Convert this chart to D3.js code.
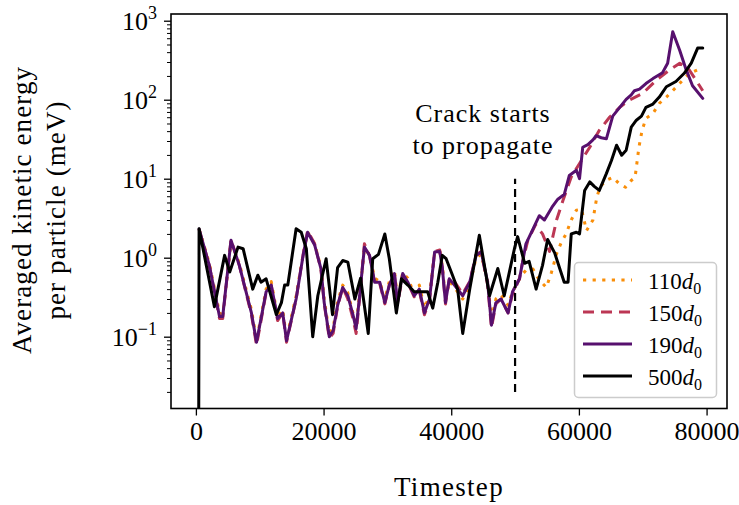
<!DOCTYPE html>
<html>
<head>
<meta charset="utf-8">
<script src="https://cdn.jsdelivr.net/npm/d3@7"></script>
<style>
  html, body { margin: 0; padding: 0; background: #fff; }
  svg { display: block; }
</style>
</head>
<body>
<svg id="chart" width="739" height="505"></svg>
<script>
// [timestep, averaged kinetic energy per particle (meV)]
const series110 = [
  [500, 2.3], [2100, 0.85], [3700, 0.2], [4200, 0.19], [5500, 1.6], [6800, 0.85],
  [8700, 0.22], [9500, 0.09], [11000, 0.4], [11800, 0.5], [12800, 0.18], [13600, 0.22],
  [14200, 0.095], [15700, 0.33], [16800, 1.1], [17500, 2.1], [18600, 1.5], [19600, 0.75],
  [20100, 0.3], [20900, 0.11], [21500, 0.13], [22200, 0.28], [23000, 0.45], [23800, 0.36],
  [24600, 0.2], [25100, 0.14], [25600, 0.32], [26400, 1.3], [27200, 1.1], [28000, 0.55],
  [28800, 0.5], [29600, 0.3], [30300, 0.5], [31100, 0.7], [31600, 0.3], [32400, 0.65],
  [33200, 0.55], [34200, 0.35], [35000, 0.45], [35800, 0.23], [36600, 0.33], [37400, 1.15],
  [38200, 1.2], [38600, 0.8], [39100, 0.3], [39700, 0.5], [40500, 0.42], [41800, 0.3],
  [42900, 0.45], [43900, 1.0], [44700, 1.1], [45700, 0.5], [46300, 0.17], [47000, 0.3],
  [47800, 0.34], [48900, 0.25], [49600, 0.37], [50200, 0.45], [51000, 0.6], [51700, 0.69],
  [52800, 0.72], [53800, 0.52], [54900, 0.42], [55700, 0.65], [56500, 1.12], [57300, 1.6],
  [58000, 2.0], [58800, 3.0], [59600, 4.0], [60400, 4.1], [61200, 2.2], [62200, 3.0],
  [62800, 5.8], [63300, 7.8], [64200, 9.5], [65300, 10.4], [66400, 8.5], [67300, 7.8],
  [68200, 9.5], [68800, 10.4], [69400, 25], [69900, 41], [70500, 58], [71600, 67],
  [72600, 90], [73700, 108], [74700, 130], [76300, 178], [77300, 215], [79200, 250]
];

const series150 = [
  [500, 2.3], [2100, 0.8], [3700, 0.17], [4200, 0.17], [5500, 1.7], [6800, 0.8],
  [8700, 0.19], [9500, 0.078], [11000, 0.36], [11800, 0.45], [12800, 0.16], [13600, 0.2],
  [14200, 0.085], [15700, 0.3], [16800, 1.1], [17500, 2.2], [18600, 1.5], [19600, 0.7],
  [20100, 0.26], [20900, 0.095], [21500, 0.11], [22200, 0.24], [23000, 0.42], [23800, 0.3],
  [24600, 0.17], [25100, 0.11], [25600, 0.28], [26400, 1.5], [27200, 1.05], [28000, 0.48],
  [28800, 0.47], [29600, 0.26], [30300, 0.45], [31100, 0.62], [31600, 0.26], [32400, 0.6],
  [33200, 0.48], [34200, 0.32], [35000, 0.38], [35800, 0.19], [36600, 0.29], [37400, 1.2],
  [38200, 1.25], [38600, 0.75], [39100, 0.26], [39700, 0.55], [40500, 0.5], [41800, 0.35],
  [42900, 0.5], [43900, 1.1], [44700, 1.2], [45700, 0.45], [46300, 0.13], [47000, 0.26],
  [47800, 0.3], [48900, 0.2], [49600, 0.35], [50000, 0.4], [50700, 0.55], [51200, 0.9],
  [52000, 1.66], [53200, 2.6], [54300, 2.0], [55400, 1.2], [56500, 3.0], [57500, 5.3],
  [58800, 10.5], [60100, 15.6], [61700, 25], [63200, 41], [64800, 60], [66400, 80],
  [67900, 99], [70000, 120], [72100, 176], [74200, 238], [75800, 290], [77300, 238],
  [78900, 150], [79400, 130]
];

const series190 = [
  [500, 2.3], [2100, 0.8], [3700, 0.18], [4200, 0.18], [5500, 1.66], [6800, 0.8],
  [8700, 0.2], [9500, 0.085], [11000, 0.37], [11800, 0.45], [12800, 0.17], [13600, 0.2],
  [14200, 0.089], [15700, 0.3], [16800, 1.07], [17500, 2.1], [18600, 1.45], [19600, 0.72],
  [20100, 0.27], [20900, 0.1], [21500, 0.12], [22200, 0.25], [23000, 0.42], [23800, 0.33],
  [24600, 0.19], [25100, 0.126], [25600, 0.3], [26400, 1.36], [27200, 1.07], [28000, 0.49],
  [28800, 0.49], [29600, 0.27], [30300, 0.45], [31100, 0.63], [31600, 0.27], [32400, 0.63],
  [33200, 0.49], [34200, 0.33], [35000, 0.4], [35800, 0.2], [36600, 0.3], [37400, 1.18],
  [38200, 1.2], [38600, 0.75], [39100, 0.27], [39700, 0.54], [40500, 0.45], [41800, 0.33],
  [42900, 0.49], [43900, 1.07], [44700, 1.18], [45700, 0.49], [46300, 0.14], [47000, 0.27],
  [47800, 0.3], [48900, 0.2], [49600, 0.37], [50700, 0.54], [51700, 1.5], [52800, 2.3],
  [53800, 3.4], [54600, 3.0], [55900, 4.5], [56700, 5.5], [57700, 6.3], [58500, 11],
  [59600, 12.8], [60100, 10], [60600, 25], [61400, 27], [62200, 31], [62700, 35],
  [63500, 33], [64300, 32], [65300, 62], [66400, 80], [67400, 101], [68200, 115],
  [68700, 130], [69500, 136], [70500, 160], [71600, 185], [73100, 220], [73900, 290],
  [74700, 725], [75800, 420], [76800, 240], [77800, 150], [79400, 104]
];

const series500 = [
  [400, 0.0001], [500, 2.33], [2900, 0.24], [4500, 1.07], [5300, 0.66], [6600, 1.36],
  [7400, 1.3], [8900, 0.4], [9700, 0.6], [10200, 0.49], [11000, 0.54], [12600, 0.19],
  [13400, 0.27], [13900, 0.45], [14400, 0.45], [15700, 2.33], [16500, 2.1], [17300, 1.3],
  [18300, 0.1], [19100, 0.33], [20400, 0.97], [21400, 0.19], [22200, 0.75], [23000, 0.92],
  [23800, 0.88], [24900, 0.3], [25800, 0.55], [27000, 0.11], [27700, 0.97], [28600, 1.1],
  [29600, 2.0], [30300, 0.97], [31400, 0.2], [32200, 0.54], [33200, 0.45], [34200, 0.37],
  [35000, 0.37], [36300, 0.37], [37100, 0.23], [37900, 0.49], [38600, 1.07], [39200, 0.97],
  [40200, 0.6], [41000, 0.4], [41800, 0.11], [42900, 0.4], [44400, 1.92], [46000, 0.33],
  [47300, 0.73], [48300, 0.33], [49900, 1.3], [50400, 1.85], [51500, 0.85], [52200, 0.9],
  [53300, 0.4], [54300, 0.8], [55100, 1.7], [56200, 1.15], [57700, 0.49], [58300, 0.49],
  [58800, 2.0], [59600, 2.1], [60100, 2.0], [60900, 7.1], [61700, 9.1], [62400, 8.0],
  [63200, 7.1], [64300, 11.6], [65100, 17], [65900, 26.5], [66700, 19.8], [67400, 22.9],
  [68200, 45], [69000, 55], [69800, 62], [70500, 80], [71600, 88], [72600, 108],
  [73700, 146], [75200, 170], [76500, 216], [77600, 290], [78600, 450], [79400, 450]
];

const seriesNames = ["110", "150", "190", "500"];
const xTicks = [0, 20000, 40000, 60000, 80000];
const yTickExponents = [-1, 0, 1, 2, 3];
const crackStep = 50000;
const crackRange = [0.02, 10];

// pick the first installed serif face
function pickFont(candidates) {
  const ctx = document.createElement("canvas").getContext("2d");
  const probe = "Crack starts 0123456789 Timestep";
  for (const f of candidates) {
    for (const base of ["monospace", "sans-serif"]) {
      ctx.font = `40px ${base}`;
      const w0 = ctx.measureText(probe).width;
      ctx.font = `40px '${f}', ${base}`;
      if (Math.abs(ctx.measureText(probe).width - w0) > 0.5) return `'${f}', serif`;
    }
  }
  return "serif";
}
const FONT = pickFont(["Liberation Serif", "DejaVu Serif", "Noto Serif", "Tinos", "Times New Roman", "FreeSerif"]);

const svg = d3.select("#chart");
const plotLeft = 171, plotRight = 727, plotTop = 14, plotBottom = 408.5;

const x = d3.scaleLinear().domain([-3900, 83200]).range([plotLeft, plotRight]);
const y = d3.scaleLog().domain([0.01233, 1216]).range([plotBottom, plotTop]);

const styles = {
  "110": { color: "#f98e09", dash: "3.2,6.4", cap: "butt" },
  "150": { color: "#bc3754", dash: "11,7", cap: "butt" },
  "190": { color: "#57106e", dash: null, cap: "round" },
  "500": { color: "#000000", dash: null, cap: "round" }
};
const data = { "110": series110, "150": series150, "190": series190, "500": series500 };

svg.append("defs").append("clipPath").attr("id", "plot-clip")
  .append("rect")
  .attr("x", plotLeft).attr("y", plotTop)
  .attr("width", plotRight - plotLeft).attr("height", plotBottom - plotTop);

// x axis
const xAxis = svg.append("g")
  .attr("transform", `translate(0,${plotBottom})`)
  .call(d3.axisBottom(x).tickValues(xTicks).tickSize(7).tickPadding(6).tickFormat(d3.format("d")));
xAxis.select(".domain").remove();
xAxis.selectAll("line").attr("stroke", "#000").attr("stroke-width", 1.3);
xAxis.selectAll("text").attr("font-family", FONT).attr("font-size", 26).attr("fill", "#000");

// y axis: major + minor ticks
const yMinor = [];
for (let e = -2; e <= 3; e++) {
  for (let m = 2; m <= 9; m++) {
    const v = m * Math.pow(10, e);
    if (v > y.domain()[0] && v < y.domain()[1]) yMinor.push(v);
  }
}
const yMinorAxis = svg.append("g")
  .attr("transform", `translate(${plotLeft},0)`)
  .call(d3.axisLeft(y).tickValues(yMinor).tickSize(4).tickFormat(""));
yMinorAxis.select(".domain").remove();
yMinorAxis.selectAll("line").attr("stroke", "#000").attr("stroke-width", 1);

const yMajor = yTickExponents.map(e => Math.pow(10, e));
const yMajorAxis = svg.append("g")
  .attr("transform", `translate(${plotLeft},0)`)
  .call(d3.axisLeft(y).tickValues(yMajor).tickSize(7).tickFormat(""));
yMajorAxis.select(".domain").remove();
yMajorAxis.selectAll("line").attr("stroke", "#000").attr("stroke-width", 1.3);

const yLabels = svg.append("g");
yTickExponents.forEach(e => {
  const t = yLabels.append("text")
    .attr("x", 157)
    .attr("y", y(Math.pow(10, e)) + 9)
    .attr("text-anchor", "end")
    .attr("font-family", FONT)
    .attr("font-size", 26)
    .attr("fill", "#000");
  t.append("tspan").text("10");
  t.append("tspan").attr("dy", -11).attr("font-size", 18)
    .text(e < 0 ? "\u2212" + Math.abs(e) : String(e));
});

// series lines
const line = d3.line()
  .x(d => x(d[0]))
  .y(d => y(d[1]));

const lines = svg.append("g").attr("clip-path", "url(#plot-clip)");
seriesNames.forEach(name => {
  const s = styles[name];
  lines.append("path")
    .datum(data[name])
    .attr("fill", "none")
    .attr("stroke", s.color)
    .attr("stroke-width", 3)
    .attr("stroke-linejoin", "round")
    .attr("stroke-linecap", s.cap)
    .attr("stroke-dasharray", s.dash)
    .attr("d", line);
});

// crack marker
svg.append("line")
  .attr("x1", x(crackStep)).attr("x2", x(crackStep))
  .attr("y1", y(crackRange[0])).attr("y2", y(crackRange[1]))
  .attr("stroke", "#000")
  .attr("stroke-width", 2.2)
  .attr("stroke-dasharray", "8,5");

const note = svg.append("text")
  .attr("text-anchor", "middle")
  .attr("font-family", FONT)
  .attr("font-size", 26)
  .attr("letter-spacing", 1)
  .attr("fill", "#000");
note.append("tspan").attr("x", 483).attr("y", 122).text("Crack starts");
note.append("tspan").attr("x", 483).attr("y", 154).text("to propagate");

// frame
svg.append("rect")
  .attr("x", plotLeft).attr("y", plotTop)
  .attr("width", plotRight - plotLeft).attr("height", plotBottom - plotTop)
  .attr("fill", "none")
  .attr("stroke", "#000")
  .attr("stroke-width", 1.6);

// axis titles
svg.append("text")
  .attr("x", 449).attr("y", 496)
  .attr("text-anchor", "middle")
  .attr("font-family", FONT)
  .attr("font-size", 27)
  .attr("letter-spacing", 1.3)
  .attr("fill", "#000")
  .text("Timestep");

const yTitle = svg.append("text")
  .attr("transform", "translate(0,210) rotate(-90)")
  .attr("text-anchor", "middle")
  .attr("font-family", FONT)
  .attr("font-size", 27)
  .attr("letter-spacing", 1.1)
  .attr("fill", "#000");
yTitle.append("tspan").attr("x", 0).attr("y", 31).text("Averaged kinetic energy");
yTitle.append("tspan").attr("x", 0).attr("y", 65).text("per particle (meV)");

// legend
const legend = svg.append("g");
legend.append("rect")
  .attr("x", 574.5).attr("y", 262.5)
  .attr("width", 142).attr("height", 135)
  .attr("rx", 4)
  .attr("fill", "#fff").attr("fill-opacity", 0.8)
  .attr("stroke", "#cccccc").attr("stroke-width", 1.5);

const legendY = [280, 312, 344, 376];
seriesNames.forEach((name, i) => {
  const s = styles[name];
  legend.append("line")
    .attr("x1", 583).attr("x2", 632)
    .attr("y1", legendY[i]).attr("y2", legendY[i])
    .attr("stroke", s.color)
    .attr("stroke-width", 3)
    .attr("stroke-linecap", "butt")
    .attr("stroke-dasharray", s.dash);
  const t = legend.append("text")
    .attr("x", 648).attr("y", legendY[i] + 9)
    .attr("font-family", FONT)
    .attr("font-size", 23)
    .attr("fill", "#000");
  t.append("tspan").text(name);
  t.append("tspan").attr("font-style", "italic").text("d");
  t.append("tspan").attr("dy", 5).attr("font-size", 16).text("0");
});
</script>
</body>
</html>
